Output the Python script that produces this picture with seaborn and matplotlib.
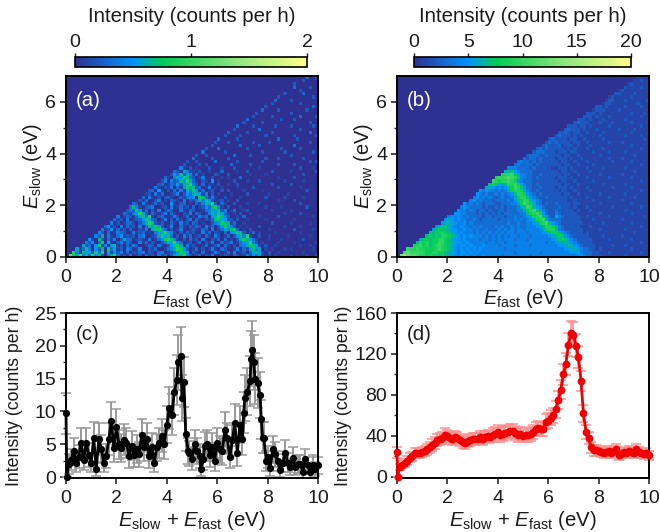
import numpy as np
import matplotlib
matplotlib.use('Agg')
import matplotlib.pyplot as plt
from matplotlib.colors import LinearSegmentedColormap
from matplotlib.ticker import FixedLocator
import seaborn as sns

# ---------------------------------------------------------------
# 2D maps, 0.125 eV cells, one hex digit per cell. Rows go from
# E_slow = 7 down to 0, blocks of 10 cells end at E_fast = 10,
# whatever is missing on the left is empty
# ---------------------------------------------------------------
# panel (a), in 0.1 counts per h
mapa_a = [
    "0000003002",
    "0000020000",
    "0020000000",
    "0030000200",
    "0000200000",
    "0000000002 0000030000",
    "0000000200 0000000020",
    "0000003000 0200000000",
    "0000020000 0000200000",
    "0002000000 0000000030",
    "0030000200 0000002000",
    "2000000000 0200000000",
    "0000000002 0000020000 0000300002",
    "0000000300 0000000020 0020000000",
    "0000002000 0020000000 0000000200",
    "0000300002 0000002000 0200000020",
    "0002000000 0300000000 0000200000",
    "0300000200 0000020000 0000000300",
    "2000020000 0002000000 0020000002",
    "0000000030 0000200000 0000000300 0002000000",
    "0000000200 0200000002 0000200000 0000000200",
    "0000002000 0000030000 0200000000 0030000000",
    "0000200030 0000000200 0000000020 0000200000",
    "0003000000 2000000000 0020000002 0000000020",
    "0200200000 0003000020 0000000000 0200000000",
    "3000002000 0200000000 0002000200 0000020000",
    "0000000020 0200000300 0000200000 0020000000 0000000202",
    "0000000200 0020200000 0030000020 0000000200 0020000000",
    "0000004102 0100020001 0002000000 0100000000 0000200010",
    "0000320641 1020010003 0000100200 0000020000 0100000002",
    "0002537264 1301000210 0200000010 0001000000 0000020000",
    "0310465873 2014002001 0100030000 0000000100 0020000000",
    "2404237596 3102105010 0002000100 0200000001 0000010000",
    "0000000002 3013252679 4203011020 0100200000 0000020000 0200000000",
    "0000000041 0214031586 7230140101 0000100002 0000000200 0000100000",
    "0000002305 1020314064 8513012002 0200001000 0010000000 0000002000",
    "0000012041 3001240253 6751402010 0010000200 0000100000 1000000000",
    "0000304102 0231002134 5087314100 2000010000 0002000001 0000010000",
    "0002130024 0103210402 1364852012 0100200000 0000000100 0020000000",
    "0320410131 2005102301 0314769203 1002000100 0100000000 0000200000",
    "3741023400 1204013120 3012537841 0200010000 0001000010 0000002000",
    "0000000002 4285130204 0132004103 2001346572 4013001200 0000010000 0100000000",
    "0000000032 1459620310 2403100214 0320147586 3101020010 0000000001 0000200000",
    "0000004013 2036749102 3001420130 1042305697 4200103000 0100000200 0000000010",
    "0000031204 0123586320 1402031024 0310213786 5120200100 0001000000 0010000000",
    "0000402013 3102469721 2003104120 3201002458 7613001000 0000020000 0100000100",
    "0035120403 1204037586 2014003102 1320413025 8642010100 0200000001 0000100000",
    "0412503120 3002140678 5302014001 2103204013 6478301020 0000100000 0020000010",
    "5203014320 0412301045 7964102031 2004130210 3056872013 0100001000 0000100000",
    "0000000004 2604103512 1203400126 8573020413 0120310420 1302574910 0200100000 1000000100",
    "0000000510 7203140263 3012104013 5897410203 1204002130 3010268753 1000100010 0000020000",
    "0000004250 3806102413 2004130210 2476953012 0130214003 1240135694 2010000100 0010000001",
    "0000062305 8140571203 1420013204 1025786041 2001301240 3102034687 5102001000 0000100100",
    "0006137405 2708361204 3014002130 0134698520 1302014103 2001403157 4601010001 0100000010",
    "0094075628 3906152403 0213402103 4012368750 2103001420 1304012036 7510200100 0000010000",
    "0c86a47395 7204693120 4012031204 1302567942 0130214001 2103201425 3610101000 0100001002",
]

# panel (b), in counts per h
mapa_b = [
    "0000001111",
    "0000011211",
    "0001211111",
    "0021111211",
    "1211111111",
    "0000000002 2111121111",
    "0000000121 1111211111",
    "0000001221 1121111112",
    "0000012211 1111112111",
    "0002212111 1121111211",
    "0012221111 2111111111",
    "2221211111 1111211121",
    "0000000002 2212111211 1111111211",
    "0000000222 1211121111 1121111111",
    "0000002322 2111211121 1111211111",
    "0000222122 1211111211 1111111211",
    "0002322212 1112111111 2111121111",
    "0223212211 2111121111 1111211111",
    "2322212121 1111211111 1121111211",
    "0000000023 2222122112 1111121111 1111111121",
    "0000000232 3222212211 2111111211 1211111111",
    "0000002322 2312221211 1211111111 1111211111",
    "0000232322 2221212111 2111121111 1111111211",
    "0002333222 1222122111 1121111211 1121111111",
    "0233322322 2212211211 1111211111 1111121111",
    "3233232222 1222121121 1111111211 1211111111",
    "0000000034 3323232222 2122112111 2111111121 1111211111",
    "0000000343 3332322222 2212211211 1121111111 1111111211",
    "0000044433 3323222221 1222121111 2111121111 1121111111",
    "0000677543 3332222222 2122112111 1211111111 1111121111",
    "000999a764 4332232222 2212211211 1111211111 1211111111",
    "09a9aba974 4332322222 1222121111 2111111211 1111211111",
    "a9899a9854 3332222222 2122112111 1121111111 1111111211",
    "0000000007 8765799a86 4332322222 2212211211 1111121111 1121111111",
    "0000000066 5454578a97 5332232222 1222121111 2111111121 1111211111",
    "0000005454 4343468998 6432322222 2122112111 1211111111 1111111211",
    "0000054343 3434345799 8543232222 2212211211 1111211111 1121111111",
    "0000453434 3234334689 9754322322 2222121111 2111111211 1111121111",
    "0004534333 2333343578 9975432222 2222112111 1121111111 1211111111",
    "0534343233 3223334468 a986432322 3222212211 1111211111 1111211111",
    "4543333232 2323233346 7a97543222 2322212111 2111111121 1111111211",
    "0000000005 4434323323 2233233344 689a764322 3222221211 1211111111 1121111111",
    "0000000055 4433323232 3232333334 4789a85322 4322222111 1111211111 1111211111",
    "0000004545 4343333233 2333233433 45689a7532 6432222211 2111111211 1111111121",
    "0000056545 4433432333 3323333434 345689a643 3322222211 1121111111 1211111111",
    "0000566654 4534333333 3333343343 3445689a75 4322222221 1111121111 1111211111",
    "0056786544 5443434333 3434334343 3444567998 6432222211 1211111111 1111111211",
    "0678776554 4544343343 3343434344 3444456899 7432222221 1111211111 1121111111",
    "7788987654 5444343434 3434344344 4344445678 8754322221 2111111111 1111121111",
    "0000000007 8787998765 4545444343 4343434434 4434444456 7875432222 2111121111 1211111111",
    "0000000688 7889a87655 4544443443 4343444344 4344444445 6787543222 2211111211 1111211111",
    "0000007989 788a987665 5454444434 4344344444 4444444344 5667654322 2211111111 1111111211",
    "0000099a89 789a987654 5545444544 4434444344 4434444444 4556765432 2221111121 1121111111",
    "000a99a998 889a987654 5454545444 4444344444 4444444444 4445566543 3221211111 1111211111",
    "00bcaaaa98 8998876654 5545454444 4444444344 4444434444 4444455643 3322111211 1111111211",
    "0dfcbba998 9887876654 5454544544 4443444444 4434444444 4444444554 3322211111 1121111111",
]

# ---------------------------------------------------------------
# spectra
# ---------------------------------------------------------------
x_c = [0, 0.03, 0.1, 0.2, 0.3, 0.4, 0.5, 0.6, 0.7, 0.8,
       0.9, 1.0, 1.1, 1.2, 1.3, 1.4, 1.5, 1.6, 1.7, 1.8,
       1.9, 2.0, 2.1, 2.2, 2.3, 2.4, 2.5, 2.6, 2.7, 2.8,
       2.9, 3.0, 3.1, 3.2, 3.3, 3.4, 3.5, 3.6, 3.7, 3.8,
       3.9, 4.0, 4.1, 4.2, 4.3, 4.4, 4.45, 4.55, 4.6, 4.68,
       4.75, 4.85, 4.9, 5.0, 5.1, 5.2, 5.3, 5.35, 5.45, 5.5,
       5.6, 5.7, 5.8, 5.9, 6.0, 6.1, 6.2, 6.3, 6.4, 6.5,
       6.6, 6.7, 6.8, 6.9, 7.0, 7.05, 7.1, 7.2, 7.3, 7.35,
       7.4, 7.45, 7.5, 7.6, 7.7, 7.75, 7.8, 7.85, 7.95, 8.0,
       8.1, 8.2, 8.3, 8.4, 8.5, 8.6, 8.7, 8.8, 8.9, 9.0,
       9.1, 9.2, 9.3, 9.4, 9.5, 9.6, 9.7, 9.8, 9.9, 10.0]
y_c = [9.7, 0, 2.0, 2.6, 3.9, 2.2, 3.1, 5.2, 2.6, 5.2,
       3.4, 2.2, 6.0, 1.2, 5.8, 4.3, 2.2, 3.2, 5.8, 8.5,
       4.4, 7.6, 5.0, 4.4, 5.7, 5.2, 3.2, 4.8, 3.3, 4.3,
       3.5, 6.4, 4.6, 5.8, 3.2, 4.6, 2.2, 4.5, 5.2, 6.3,
       5.0, 8.0, 10.5, 9.5, 13, 14.8, 17.5, 18.5, 12, 14.5,
       6.5, 4, 3.6, 2.8, 5.0, 4.0, 3.2, 1.2, 2.8, 4.7,
       5.0, 3.4, 4.6, 2.5, 5.2, 4.2, 3.9, 7.2, 5.9, 3.0,
       5.6, 8.2, 3.6, 8.0, 5.8, 9.8, 12, 13, 14.6, 18,
       19.4, 17.5, 15, 14.3, 12.5, 8.8, 6, 6, 2.4, 3,
       1.3, 4.2, 3.5, 2.4, 1.0, 2.1, 3.7, 2.2, 1.5, 2.9,
       1.6, 2.0, 2.0, 0.8, 2.7, 1.8, 0.7, 1.9, 1.2, 1.8]
err_c = [3.1, 0, 1.5, 1.6, 2.0, 1.5, 1.8, 2.3, 1.6, 2.3,
         1.8, 1.5, 2.4, 1.1, 2.4, 2.1, 1.5, 1.8, 2.4, 2.9,
         2.1, 2.7, 2.2, 2.1, 2.4, 2.3, 1.8, 2.2, 1.8, 2.1,
         1.9, 2.5, 2.1, 2.4, 1.8, 2.1, 1.5, 2.1, 2.3, 2.5,
         2.2, 2.8, 3.2, 3.1, 3.6, 3.8, 4.2, 4.3, 3.5, 3.8,
         2.5, 2, 1.9, 1.7, 2.2, 2, 1.8, 1.1, 1.7, 2.2,
         2.2, 1.8, 2.1, 1.6, 2.3, 2.0, 2.0, 2.7, 2.4, 1.7,
         2.4, 2.9, 1.9, 2.8, 2.4, 3.1, 3.5, 3.6, 3.8, 4.2,
         4.4, 4.2, 3.9, 3.8, 3.5, 3, 2.4, 2.4, 1.5, 1.7,
         1.1, 2, 1.9, 1.5, 1, 1.4, 1.9, 1.5, 1.2, 1.7,
         1.3, 1.4, 1.4, 0.9, 1.6, 1.3, 0.8, 1.4, 1.1, 1.3]

x_d = [0, 0.03, 0.1, 0.2, 0.3, 0.4, 0.5, 0.6, 0.7, 0.8,
       0.9, 1.0, 1.1, 1.2, 1.3, 1.4, 1.5, 1.6, 1.7, 1.8,
       1.9, 2.0, 2.1, 2.2, 2.3, 2.4, 2.5, 2.6, 2.7, 2.8,
       2.9, 3.0, 3.1, 3.2, 3.3, 3.4, 3.5, 3.6, 3.7, 3.8,
       3.9, 4.0, 4.1, 4.2, 4.3, 4.4, 4.5, 4.6, 4.7, 4.8,
       4.9, 5.0, 5.1, 5.2, 5.3, 5.4, 5.5, 5.6, 5.7, 5.8,
       5.9, 6.0, 6.1, 6.2, 6.3, 6.4, 6.5, 6.6, 6.7, 6.8,
       6.9, 7.0, 7.1, 7.2, 7.3, 7.4, 7.5, 7.6, 7.7, 7.8,
       7.9, 8.0, 8.1, 8.2, 8.3, 8.4, 8.5, 8.6, 8.7, 8.8,
       8.9, 9.0, 9.1, 9.2, 9.3, 9.4, 9.5, 9.6, 9.7, 9.8,
       9.9, 10.0]
y_d = [24, 0, 10, 12, 14, 16, 19, 20, 23, 23,
       23, 24, 25, 27, 29, 31, 33, 36, 37, 38,
       41, 40, 38, 37, 39, 38, 36, 34, 33, 35,
       36, 37, 37, 37, 39, 37, 39, 40, 39, 41,
       42, 44, 41, 42, 43, 44, 45, 45, 43, 41,
       42, 40, 41, 41, 42, 44, 47, 48, 47, 47,
       54, 55, 58, 60, 66, 75, 85, 100, 110, 129,
       140, 139, 128, 117, 94, 62, 44, 38, 29, 26,
       26, 25, 24, 23, 24, 25, 23, 25, 27, 21,
       22, 24, 23, 25, 24, 23, 27, 24, 23, 22,
       23, 21]
err_d = [5, 0, 3, 3.5, 4, 4, 4.4, 4.5, 4.8, 4.8,
         4.8, 4.9, 5, 5.2, 5.4, 5.6, 5.7, 6, 6.1, 6.2,
         6.4, 6.3, 6.2, 6.1, 6.2, 6.2, 6, 5.8, 5.7, 5.9,
         6, 6.1, 6.1, 6.1, 6.2, 6.1, 6.2, 6.3, 6.2, 6.4,
         6.5, 6.6, 6.4, 6.5, 6.6, 6.6, 6.7, 6.7, 6.6, 6.4,
         6.5, 6.3, 6.4, 6.4, 6.5, 6.6, 6.9, 6.9, 6.9, 6.9,
         7.3, 7.4, 7.6, 7.7, 8.1, 8.7, 9.2, 10, 10.5, 11.4,
         11.8, 11.8, 11.3, 10.8, 9.7, 7.9, 6.6, 6.2, 5.4, 5.1,
         5.1, 5, 4.9, 4.8, 4.9, 5, 4.8, 5, 5.2, 4.6,
         4.7, 4.9, 4.8, 5, 4.9, 4.8, 5.2, 4.9, 4.8, 4.7,
         4.8, 4.6]

ticks_energia = [0, 2, 4, 6, 8, 10]
ticks_slow = [0, 2, 4, 6]
ticks_cbar_a = [0, 1, 2]
ticks_cbar_b = [0, 5, 10, 15, 20]

# ---------------------------------------------------------------
# style
# ---------------------------------------------------------------
sns.set_style('ticks')
plt.rcParams['font.family'] = ['Liberation Sans', 'DejaVu Sans']
plt.rcParams['font.size'] = 14
plt.rcParams['mathtext.fontset'] = 'custom'
plt.rcParams['mathtext.rm'] = 'Liberation Sans'
plt.rcParams['mathtext.it'] = 'Liberation Sans:italic'
plt.rcParams['text.color'] = '#1a1a1a'

mapa_color = LinearSegmentedColormap.from_list('intensidad', [
    (0.0, '#2e3192'), (0.25, '#0095ff'), (0.38, '#00cc55'),
    (0.7, '#90e680'), (1.0, '#ffff8c')])

W, H = 660, 532
fig = plt.figure(figsize=(W / 100, H / 100), dpi=100)


def caja(x0, y0, x1, y1):
    # axes rectangle from pixel corners
    return [x0 / W, 1 - y1 / H, (x1 - x0) / W, (y1 - y0) / H]


def rellena(filas):
    # join the blocks and fill the empty part above the diagonal
    filas = [f.replace(' ', '').rjust(80, '0') for f in filas]
    return np.array([[int(c, 16) for c in f] for f in filas], dtype=float)


def ajusta_ejes(ax):
    for s in ax.spines.values():
        s.set_visible(True)
        s.set_linewidth(1.4)
        s.set_color('black')
    ax.tick_params(which='major', direction='out', length=4, width=1.1, pad=3,
                   labelsize=14, top=False, right=False, colors='#1a1a1a')
    ax.tick_params(axis='x', which='major', pad=4.5)
    ax.tick_params(which='minor', direction='out', length=2.5, width=1.0, top=False, right=False)


def dibuja_mapa(rect, rect_cbar, datos, vmax, ticks_cbar, letra, x_titulo, x_label, x_ylabel):
    ax = fig.add_axes(caja(*rect))
    cax = fig.add_axes(caja(*rect_cbar))
    sns.heatmap(datos, ax=ax, cbar_ax=cax, vmin=0, vmax=vmax, cmap=mapa_color,
                xticklabels=False, yticklabels=False, linewidths=0,
                cbar_kws={'orientation': 'horizontal', 'ticks': ticks_cbar})
    ajusta_ejes(ax)
    ax.set_xticks([v * 8 for v in ticks_energia])
    ax.set_xticklabels(ticks_energia, rotation=0)
    ax.set_yticks([(7 - v) * 8 for v in ticks_slow])
    ax.set_yticklabels(ticks_slow, rotation=0)
    ax.yaxis.set_minor_locator(FixedLocator([(7 - v) * 8 for v in [1, 3, 5]]))
    ax.text(0.04, 0.867, letra, transform=ax.transAxes, color='white', fontsize=14.7, va='center')

    cb = ax.collections[0].colorbar
    cb.outline.set_visible(True)
    cb.outline.set_linewidth(1.2)
    cb.outline.set_edgecolor('black')
    cax.xaxis.set_ticks_position('top')
    cax.tick_params(direction='out', length=3, width=1.0, pad=1.5, labelsize=14, colors='#1a1a1a')
    cax.set_xticklabels(ticks_cbar)

    fig.text(x_titulo / W, 1 - 17 / H, 'Intensity (counts per h)', ha='center', va='center', fontsize=14.7)
    fig.text(x_label / W, 1 - 298 / H, r'$\mathit{E}_{\mathrm{fast}}$ (eV)', ha='center', va='center', fontsize=14.4)
    fig.text(x_ylabel / W, 1 - 166 / H, r'$\mathit{E}_{\mathrm{slow}}$ (eV)', ha='center', va='center',
             rotation=90, fontsize=14.4)


def dibuja_espectro(rect, x, y, err, color, color_err, ymin, ymax, mayores, menores, letra, x_label, x_ylabel,
                    lw_err, tam):
    ax = fig.add_axes(caja(*rect))
    ax.errorbar(x, y, yerr=err, fmt='none', ecolor=color_err, elinewidth=lw_err,
                capsize=3.8, capthick=1.1, clip_on=False, zorder=2)
    sns.lineplot(x=x, y=y, ax=ax, color=color, linewidth=2.0, marker='o', markersize=tam,
                 markeredgewidth=0, estimator=None, errorbar=None, clip_on=False, zorder=3)
    ax.set_xlim(0, 10)
    ax.set_ylim(ymin, ymax)
    ajusta_ejes(ax)
    ax.set_xticks(ticks_energia)
    ax.set_yticks(mayores)
    ax.yaxis.set_minor_locator(FixedLocator(menores))
    ax.set_xlabel('')
    ax.set_ylabel('')
    ax.text(0.04, 0.867, letra, transform=ax.transAxes, color='#1a1a1a', fontsize=14.7, va='center')
    fig.text(x_label / W, 1 - 520 / H, r'$\mathit{E}_{\mathrm{slow}}$ + $\mathit{E}_{\mathrm{fast}}$ (eV)',
             ha='center', va='center', fontsize=14.7)
    fig.text(x_ylabel / W, 1 - 396 / H, 'Intensity (counts per h)', ha='center', va='center',
             rotation=90, fontsize=12.8)


dibuja_mapa((66, 76, 318, 257), (75, 57, 307, 67), rellena(mapa_a) / 10, 2, ticks_cbar_a, '(a)', 192, 192, 32)
dibuja_mapa((397, 76, 649, 257), (414, 57, 631, 67), rellena(mapa_b), 20, ticks_cbar_b, '(b)', 523, 523, 363)

dibuja_espectro((66, 313, 318, 478), x_c, y_c, err_c, 'black', '#999999', -0.15, 25,
                [0, 5, 10, 15, 20, 25], [2.5, 7.5, 12.5, 17.5, 22.5], '(c)', 192, 15, 1.4, 5.2)
dibuja_espectro((397, 313, 649, 478), x_d, y_d, err_d, '#f00000', '#ff9090', -1, 160,
                [0, 40, 80, 120, 160], [20, 60, 100, 140], '(d)', 523, 344, 1.2, 5.6)

fig.savefig('out.png', dpi=100)
